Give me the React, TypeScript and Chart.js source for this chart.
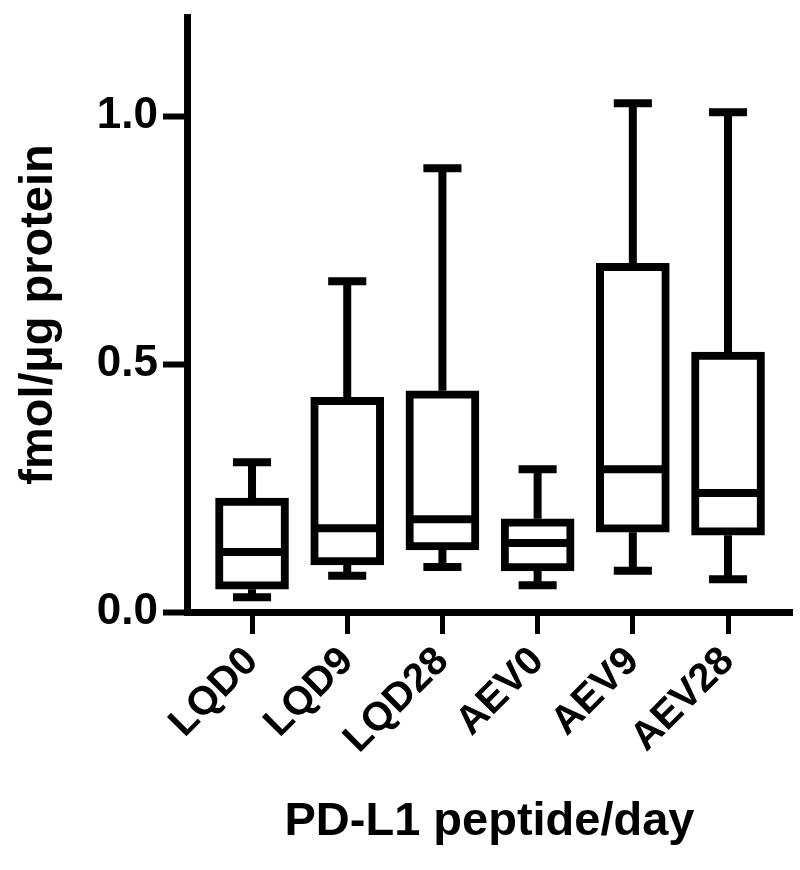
import React, { useEffect, useRef } from 'react';
import { Chart, registerables } from 'chart.js';

Chart.register(...registerables);

// ---- data ----
const categories = ['LQD0', 'LQD9', 'LQD28', 'AEV0', 'AEV9', 'AEV28'];
const whiskerLow = [0.030, 0.073, 0.091, 0.054, 0.083, 0.066];
const quartile1 = [0.046, 0.095, 0.125, 0.083, 0.161, 0.155];
const medians = [0.121, 0.169, 0.187, 0.139, 0.288, 0.240];
const quartile3 = [0.230, 0.433, 0.446, 0.188, 0.703, 0.524];
const whiskerHigh = [0.302, 0.667, 0.895, 0.288, 1.026, 1.008];
const yTickValues = [0, 0.5, 1.0];

const xTitle = 'PD-L1 peptide/day';
const yTitle = 'fmol/µg protein';

// ---- styling ----
const FONT = "'Liberation Sans', Arial, Helvetica, sans-serif";
const BLACK = '#000000';
const BOX_HALF = 0.36;
const CAP_HALF = 0.2;

type Pt = { x: number; y: number | null };

function buildLineSegments(): Pt[] {
  const pts: Pt[] = [];
  categories.forEach((_, i) => {
    // upper whisker
    pts.push({ x: i, y: quartile3[i] }, { x: i, y: whiskerHigh[i] }, { x: i, y: null });
    // upper cap
    pts.push({ x: i - CAP_HALF, y: whiskerHigh[i] }, { x: i + CAP_HALF, y: whiskerHigh[i] }, { x: i, y: null });
    // lower whisker
    pts.push({ x: i, y: quartile1[i] }, { x: i, y: whiskerLow[i] }, { x: i, y: null });
    // lower cap
    pts.push({ x: i - CAP_HALF, y: whiskerLow[i] }, { x: i + CAP_HALF, y: whiskerLow[i] }, { x: i, y: null });
    // median
    pts.push({ x: i - BOX_HALF, y: medians[i] }, { x: i + BOX_HALF, y: medians[i] }, { x: i, y: null });
  });
  return pts;
}

export default function App() {
  const ref = useRef<HTMLCanvasElement | null>(null);

  useEffect(() => {
    document.body.style.margin = '0';
    const canvas = ref.current;
    if (!canvas) return;

    const chart = new Chart(canvas, {
      type: 'bar',
      data: {
        datasets: [
          {
            type: 'line',
            label: 'whiskers',
            data: buildLineSegments() as any,
            borderColor: BLACK,
            borderWidth: 8,
            borderCapStyle: 'butt',
            pointRadius: 0,
            spanGaps: false,
            fill: false,
            order: 0,
          } as any,
          {
            type: 'bar',
            label: 'box',
            data: categories.map((_, i) => ({ x: i, y: [quartile1[i], quartile3[i]] })) as any,
            backgroundColor: '#ffffff',
            borderColor: BLACK,
            borderWidth: 8,
            borderSkipped: false,
            barThickness: 73,
            order: 1,
          } as any,
        ],
      },
      options: {
        animation: false,
        responsive: false,
        devicePixelRatio: 1,
        layout: { padding: { top: 17, right: 8, left: 0, bottom: 0 } },
        plugins: { legend: { display: false }, tooltip: { enabled: false } },
        scales: {
          x: {
            type: 'linear',
            offset: false,
            min: -0.683,
            max: 5.672,
            afterBuildTicks: (s: any) => {
              s.ticks = categories.map((_, i) => ({ value: i }));
            },
            afterFit: (s: any) => {
              s.height = 258;
              s.paddingLeft = 0;
              s.paddingRight = 0;
            },
            ticks: {
              callback: (v: any) => categories[Math.round(Number(v))] ?? '',
              maxRotation: 45,
              minRotation: 45,
              autoSkip: false,
              color: BLACK,
              padding: 4,
              font: { family: FONT, size: 40, weight: 'bold' },
            },
            grid: {
              display: true,
              offset: false,
              drawOnChartArea: false,
              drawTicks: true,
              tickLength: 22,
              tickWidth: 5,
              tickColor: BLACK,
            },
            border: { display: true, width: 7, color: BLACK },
            title: {
              display: true,
              text: xTitle,
              color: BLACK,
              font: { family: FONT, size: 47, weight: 'bold' },
              padding: { top: 0, bottom: 20 },
            },
          },
          y: {
            type: 'linear',
            min: 0,
            max: 1.2,
            afterBuildTicks: (s: any) => {
              s.ticks = yTickValues.map((v) => ({ value: v }));
            },
            afterFit: (s: any) => {
              s.width = 187;
              s.paddingTop = 0;
              s.paddingBottom = 0;
            },
            ticks: {
              callback: (v: any) => Number(v).toFixed(1),
              color: BLACK,
              padding: 5,
              font: { family: FONT, size: 44, weight: 'bold' },
            },
            grid: {
              display: true,
              offset: false,
              drawOnChartArea: false,
              drawTicks: true,
              tickLength: 24,
              tickWidth: 6,
              tickColor: BLACK,
            },
            border: { display: true, width: 7, color: BLACK },
            title: {
              display: true,
              text: yTitle,
              color: BLACK,
              font: { family: FONT, size: 47, weight: 'bold' },
              padding: { top: 11, bottom: 0 },
            },
          },
        },
      } as any,
    });

    return () => chart.destroy();
  }, []);

  return (
    <div style={{ width: 800, height: 870 }}>
      <canvas ref={ref} width={800} height={870} style={{ display: 'block' }} />
    </div>
  );
}
